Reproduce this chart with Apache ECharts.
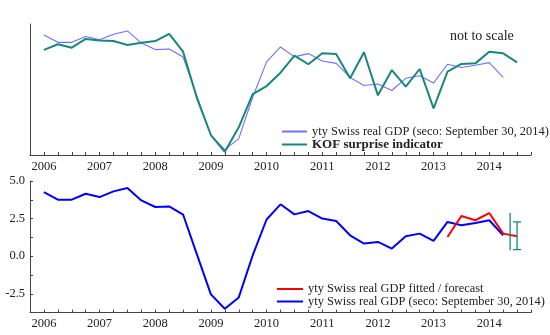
<!DOCTYPE html>
<html>
<head>
<meta charset="utf-8">
<script src="https://cdn.jsdelivr.net/npm/echarts@6/dist/echarts.min.js"></script>
<style>
  html, body { margin: 0; padding: 0; background: #fff; }
  #chart { width: 550px; height: 335px; }
</style>
</head>
<body>
<div id="chart"></div>
<script>
// Quarterly dates (year + fraction)
const quarters = [
  2006.0, 2006.25, 2006.5, 2006.75, 2007.0, 2007.25, 2007.5, 2007.75,
  2008.0, 2008.25, 2008.5, 2008.75, 2009.0, 2009.25, 2009.5, 2009.75,
  2010.0, 2010.25, 2010.5, 2010.75, 2011.0, 2011.25, 2011.5, 2011.75,
  2012.0, 2012.25, 2012.5, 2012.75, 2013.0, 2013.25, 2013.5, 2013.75,
  2014.0, 2014.25, 2014.5
];

// Year-on-year Swiss real GDP growth, % (seco release of September 30, 2014)
const gdpYty = [
  4.26, 3.76, 3.76, 4.15, 3.93, 4.31, 4.53, 3.71,
  3.27, 3.31, 2.77, 0.10, -2.54, -3.49, -2.74, 0.05,
  2.44, 3.45, 2.78, 3.00, 2.50, 2.34, 1.39, 0.84,
  0.95, 0.51, 1.33, 1.50, 1.02, 2.28, 2.06, 2.21,
  2.39, 1.39
];

// KOF surprise indicator (plotted on its own, unscaled axis)
const kofSurprise = [
  3.25, 3.63, 3.40, 3.99, 3.88, 3.85, 3.58, 3.74,
  3.85, 4.33, 3.13, -0.02, -2.50, -3.63, -1.98, 0.27,
  0.81, 1.71, 2.86, 2.28, 3.02, 2.97, 1.33, 3.09,
  0.18, 1.89, 0.77, 1.96, -0.70, 1.78, 2.30, 2.34,
  3.13, 3.02, 2.41
];

// Fitted / forecast GDP growth from 2013 Q2 onwards
const fitQuarters = [2013.25, 2013.5, 2013.75, 2014.0, 2014.25, 2014.5];
const gdpFitted = [1.28, 2.67, 2.39, 2.87, 1.50, 1.33];

// Forecast ranges: [date, low, high]
const kofRange = [2014.375, 0.40, 2.87];
const fitRange = [2014.5, 0.44, 2.28];

const yLabels = [5.0, 2.5, 0.0, -2.5];

const NAME_GDP_TOP = 'yty Swiss real GDP (seco: September 30, 2014)';
const NAME_KOF = 'KOF surprise indicator';
const NAME_FIT = 'yty Swiss real GDP fitted / forecast';
const NAME_GDP = 'yty Swiss real GDP (seco: September 30, 2014) ';

const FONT = 'Liberation Serif';
const TEXT = '#222';
const AXIS = '#444';
const TEAL = '#18877f';

const pairs = (xs, ys) => ys.map((y, i) => [xs[i], y]);

function xAxisCfg(gridIndex) {
  return {
    type: 'value', gridIndex,
    min: 2005.75, max: 2014.75, interval: 0.25,
    axisLine: { show: true, onZero: false, lineStyle: { color: AXIS, width: 1 } },
    axisTick: { show: true, inside: true, length: 3, lineStyle: { color: AXIS } },
    splitLine: { show: false },
    axisLabel: {
      fontFamily: FONT, fontSize: 12.5, color: TEXT, margin: 5,
      formatter: v => (Math.abs(v - Math.round(v)) < 1e-6 ? String(Math.round(v)) : '')
    }
  };
}

function errorBarItem(withCaps, color) {
  return function (params, api) {
    const x = api.value(0);
    const lo = api.coord([x, api.value(1)]);
    const hi = api.coord([x, api.value(2)]);
    const children = [{
      type: 'line',
      shape: { x1: lo[0], y1: lo[1], x2: hi[0], y2: hi[1] },
      style: { stroke: color, lineWidth: 1.3 }
    }];
    if (withCaps) {
      const w = 4;
      children.push(
        { type: 'line', shape: { x1: hi[0] - w, y1: hi[1], x2: hi[0] + w, y2: hi[1] }, style: { stroke: color, lineWidth: 1.3 } },
        { type: 'line', shape: { x1: lo[0] - w, y1: lo[1], x2: lo[0] + w, y2: lo[1] }, style: { stroke: color, lineWidth: 1.3 } }
      );
    }
    return { type: 'group', children };
  };
}

const chart = echarts.init(document.getElementById('chart'), null, { renderer: 'canvas' });

chart.setOption({
  backgroundColor: '#fff',
  animation: false,
  textStyle: { fontFamily: FONT },
  grid: [
    { left: 30, right: 19, top: 24, bottom: 180 },
    { left: 30, right: 19, top: 181, bottom: 22.4 }
  ],
  xAxis: [xAxisCfg(0), xAxisCfg(1)],
  yAxis: [
    {
      type: 'value', gridIndex: 0, min: -3.85, max: 5,
      axisLine: { show: true, lineStyle: { color: AXIS, width: 1 } },
      axisTick: { show: false },
      axisLabel: { show: false },
      splitLine: { show: false }
    },
    {
      type: 'value', gridIndex: 1, min: -3.75, max: 5, interval: 1.25,
      axisLine: { show: true, lineStyle: { color: AXIS, width: 1 } },
      axisTick: { show: true, inside: true, length: 3, lineStyle: { color: AXIS } },
      splitLine: { show: false },
      axisLabel: {
        fontFamily: FONT, fontSize: 12.5, color: TEXT, margin: 5,
        formatter: v => {
          const hit = yLabels.find(l => Math.abs(l - v) < 1e-6);
          return hit === undefined ? '' : hit.toFixed(1);
        }
      }
    }
  ],
  legend: [
    {
      orient: 'vertical', left: 282, top: 125.5, padding: 0, itemGap: 0.5,
      itemWidth: 25, itemHeight: 2, icon: 'rect',
      textStyle: { fontFamily: FONT, fontSize: 12.4, color: TEXT, lineHeight: 12 },
      data: [
        { name: NAME_GDP_TOP, itemStyle: { color: '#7070ff' } },
        { name: NAME_KOF, itemStyle: { color: TEAL }, textStyle: { fontWeight: 'bold', fontSize: 13 } }
      ]
    },
    {
      orient: 'vertical', left: 277, top: 283, padding: 0, itemGap: 0.5,
      itemWidth: 26, itemHeight: 2, icon: 'rect',
      textStyle: { fontFamily: FONT, fontSize: 12.4, color: TEXT, lineHeight: 12 },
      data: [
        { name: NAME_FIT, itemStyle: { color: '#ff0000' } },
        { name: NAME_GDP, itemStyle: { color: '#0000ff' } }
      ]
    }
  ],
  graphic: [
    {
      type: 'text', left: 450, top: 29,
      style: { text: 'not to scale', font: '14px "Liberation Serif"', fill: TEXT }
    }
  ],
  series: [
    {
      name: NAME_GDP_TOP, type: 'line', xAxisIndex: 0, yAxisIndex: 0,
      data: pairs(quarters, gdpYty), showSymbol: false,
      lineStyle: { color: '#7070ff', width: 1.1 }, itemStyle: { color: '#7070ff' }, z: 2
    },
    {
      name: NAME_KOF, type: 'line', xAxisIndex: 0, yAxisIndex: 0,
      data: pairs(quarters, kofSurprise), showSymbol: false,
      lineStyle: { color: TEAL, width: 2 }, itemStyle: { color: TEAL }, z: 3
    },
    {
      name: NAME_GDP, type: 'line', xAxisIndex: 1, yAxisIndex: 1,
      data: pairs(quarters, gdpYty), showSymbol: false,
      lineStyle: { color: '#0000ff', width: 2 }, itemStyle: { color: '#0000ff' }, z: 2
    },
    {
      name: NAME_FIT, type: 'line', xAxisIndex: 1, yAxisIndex: 1,
      data: pairs(fitQuarters, gdpFitted), showSymbol: false,
      lineStyle: { color: '#ff0000', width: 2 }, itemStyle: { color: '#ff0000' }, z: 3
    },
    {
      type: 'custom', xAxisIndex: 1, yAxisIndex: 1,
      data: [kofRange], renderItem: errorBarItem(false, TEAL), z: 4
    },
    {
      type: 'custom', xAxisIndex: 1, yAxisIndex: 1,
      data: [fitRange], renderItem: errorBarItem(true, TEAL), z: 4
    }
  ]
});
</script>
</body>
</html>
